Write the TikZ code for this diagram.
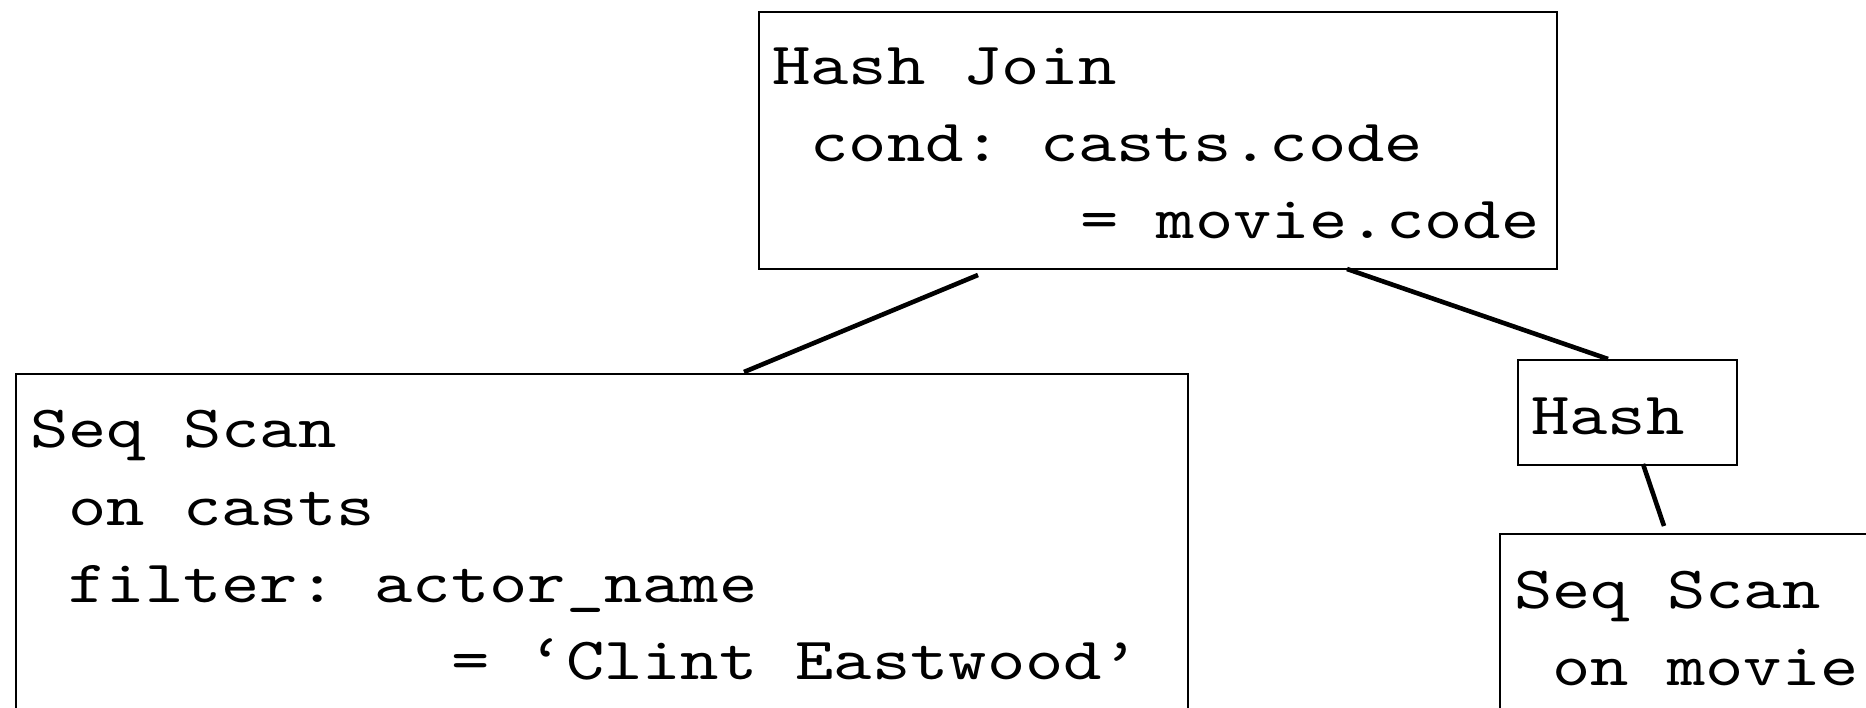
\documentclass[tikz,border=0pt]{standalone}
\usepackage{fontspec}
\newfontfamily\codefont[FakeStretch=1.215]{lmmono10-regular.otf}
\begin{document}
\frenchspacing
\begin{tikzpicture}[x=1pt,y=-1pt,
  box/.style={draw=black,line width=2.1pt,inner sep=0pt,anchor=north west},
  code/.style={font=\codefont\fontsize{60}{72}\selectfont\frenchspacing,anchor=base west,inner sep=0pt},
  edge/.style={draw=black,line width=4.6pt}]
\useasboundingbox (0,0) rectangle (1866,708);
\clip (0,0) rectangle (1866,708);
% boxes
\node[box,minimum width=798pt,minimum height=257pt] (hj) at (758,11) {};
\node[box,minimum width=1172pt,minimum height=400pt] (scanc) at (15,373) {};
\node[box,minimum width=219pt,minimum height=105pt] (hash) at (1517,359) {};
\node[box,minimum width=500pt,minimum height=300pt] (scanm) at (1499,533) {};
% texts
\node[code] (hj1) at (772,85) {Hash Join};
\node[code] (hj2) at (810.3,162) {cond: casts.code};
\node[code] (hj3) at (1080,239) {= movie.code};
\node[code] (sc1) at (30,447) {Seq Scan};
\node[code] (sc2) at (68.3,525) {on casts};
\node[code] (sc3) at (68.3,602) {filter: actor\_name};
\node[code] (sc4) at (451,679) {= ‘Clint Eastwood’};
\node[code] (ha1) at (1531,435) {Hash};
\node[code] (sm1) at (1514,608) {Seq Scan};
\node[code] (sm2) at (1552.3,685) {on movie};
% connectors
\coordinate (e1a) at (978,275);
\coordinate (e1b) at (744,372);
\coordinate (e2a) at (1347,269);
\coordinate (e2b) at (1608,359);
\coordinate (e3a) at (1643,464);
\coordinate (e3b) at (1664,526);
\draw[edge] (e1a) -- (e1b);
\draw[edge] (e2a) -- (e2b);
\draw[edge] (e3a) -- (e3b);
\end{tikzpicture}
\end{document}
